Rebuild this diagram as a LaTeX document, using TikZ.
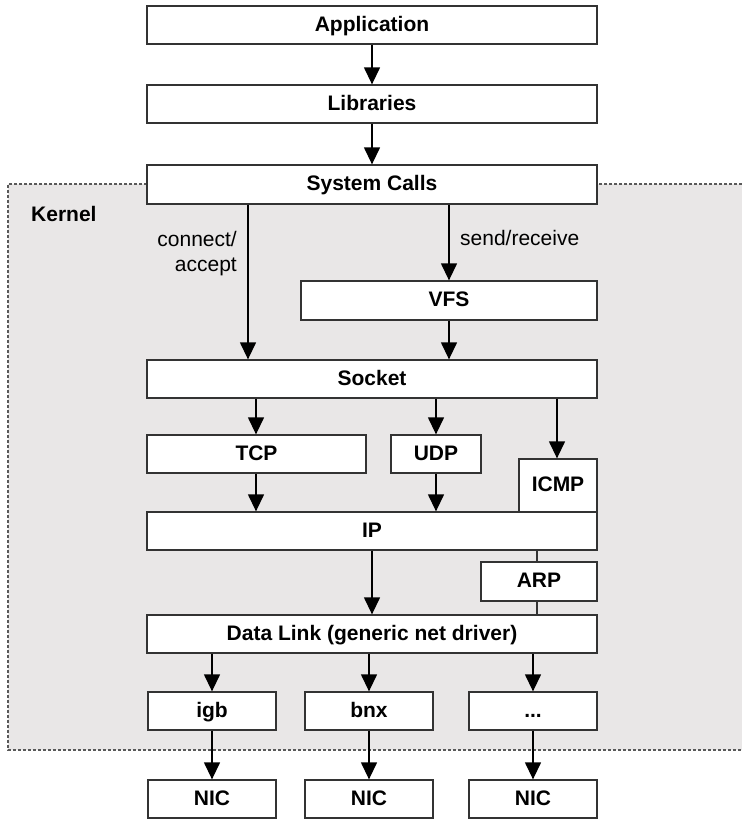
\documentclass[tikz,border=0pt]{standalone}
\usepackage{fontspec}
\setmainfont{Liberation Sans}
\usetikzlibrary{arrows.meta}
\definecolor{kernelbg}{HTML}{E9E7E7}
\definecolor{edge}{HTML}{333333}
\begin{document}
\begin{tikzpicture}[x=1pt,y=-1pt,
  box/.style={draw=edge, fill=white, line width=1.3pt, inner sep=0pt,
    font=\fontsize{21}{25}\selectfont\bfseries, minimum height=38pt,
    text height=15pt, text depth=3pt},
  arr/.style={draw=black, line width=1.3pt, -{Triangle[width=16pt,length=17pt]}},
  plain/.style={draw=edge, line width=1.3pt},
  lbl/.style={font=\fontsize{21}{25}\selectfont, inner sep=0pt},
  kdash/.style={draw=black!65, line width=1.4pt, dash pattern=on 3pt off 2pt}]
\useasboundingbox (0,0) rectangle (742,828);
% kernel region
\fill[kernelbg] (8,184) rectangle (742,750);
\draw[kdash] (742,184) -- (8,184) -- (8,750) -- (742,750);
\node[lbl, font=\fontsize{21}{25}\selectfont\bfseries, anchor=west] (kernel) at (31,214) {Kernel};

% boxes
\node[box, minimum width=450pt] (app) at (372,25) {Application};
\node[box, minimum width=450pt] (lib) at (372,104) {Libraries};
\node[box, minimum width=450pt, minimum height=39pt] (sys) at (372,184.5) {System Calls};
\node[box, minimum width=296pt, minimum height=39pt] (vfs) at (449,300.5) {VFS};
\node[box, minimum width=450pt] (sock) at (372,379) {Socket};
\node[box, minimum width=219pt] (tcp) at (256.5,454) {TCP};
\node[box, minimum width=90pt] (udp) at (436,454) {UDP};
\node[box, minimum width=78pt, minimum height=53pt] (icmp) at (558,485.5) {ICMP};
\node[box, minimum width=450pt] (ip) at (372,531) {IP};
\node[box, minimum width=116pt, minimum height=39pt] (arp) at (539,581.5) {ARP};
\node[box, minimum width=450pt] (dl) at (372,634) {Data Link (generic net driver)};
\node[box, minimum width=128pt] (igb) at (212,711) {igb};
\node[box, minimum width=128pt] (bnx) at (369,711) {bnx};
\node[box, minimum width=128pt] (oth) at (533,711) {...};
\node[box, minimum width=128pt] (nic1) at (212,799) {NIC};
\node[box, minimum width=128pt] (nic2) at (369,799) {NIC};
\node[box, minimum width=128pt] (nic3) at (533,799) {NIC};

% column coordinates
\coordinate (cA) at (248,0);
\coordinate (cT) at (256,0);
\coordinate (cU) at (436,0);
\coordinate (cI) at (557,0);
\coordinate (cP) at (372,0);
\coordinate (cR) at (537,0);

% labels
\node[lbl, align=right, anchor=east] (ca) at (237,254) {connect/\\accept};
\node[lbl, anchor=west] (sr) at (460,238) {send/receive};

% connectors
\draw[arr] (app) -- (lib);
\draw[arr] (lib) -- (sys);
\draw[arr] (sys.south -| cA) -- (sock.north -| cA);
\draw[arr] (sys.south -| vfs.north) -- (vfs.north);
\draw[arr] (vfs) -- (sock.north -| vfs.south);
\draw[arr] (sock.south -| cT) -- (tcp.north -| cT);
\draw[arr] (sock.south -| cU) -- (udp.north -| cU);
\draw[arr] (sock.south -| cI) -- (icmp.north -| cI);
\draw[arr] (tcp.south -| cT) -- (ip.north -| cT);
\draw[arr] (udp.south -| cU) -- (ip.north -| cU);
\draw[arr] (ip.south -| cP) -- (dl.north -| cP);
\draw[plain] (ip.south -| cR) -- (arp.north -| cR);
\draw[plain] (arp.south -| cR) -- (dl.north -| cR);
\draw[arr] (dl.south -| igb.north) -- (igb.north);
\draw[arr] (dl.south -| bnx.north) -- (bnx.north);
\draw[arr] (dl.south -| oth.north) -- (oth.north);
\draw[arr] (igb) -- (nic1);
\draw[arr] (bnx) -- (nic2);
\draw[arr] (oth) -- (nic3);
\end{tikzpicture}
\end{document}
